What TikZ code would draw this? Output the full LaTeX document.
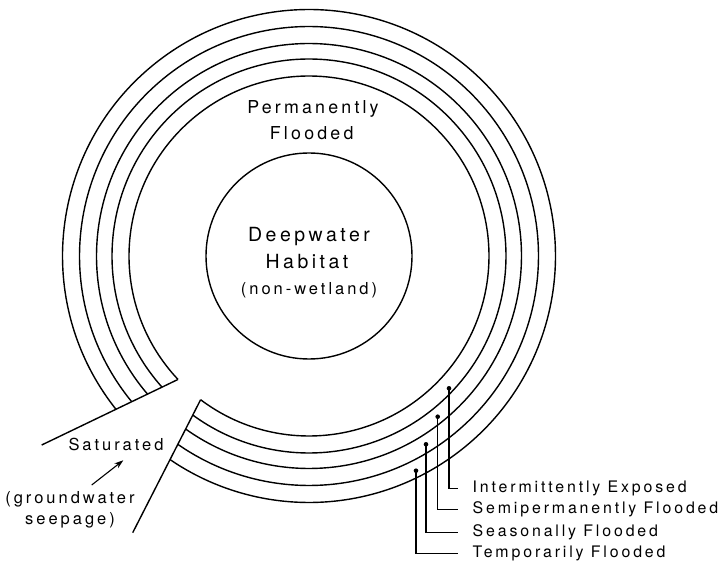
\documentclass[tikz,border=0pt]{standalone}
\usepackage{fontspec}
\setmainfont{TeX Gyre Heros}[LetterSpace=18]
\usetikzlibrary{arrows.meta}

\begin{document}
\begin{tikzpicture}[x=1pt, y=1pt, line width=1.4pt,
    every node/.style={inner sep=0pt, anchor=base},
    zone/.style={anchor=base west, font=\fontsize{15.9}{18}\selectfont},
    big/.style={font=\fontsize{19.5}{22}\selectfont},
    mid/.style={font=\fontsize{17.8}{21}\selectfont},
    small/.style={font=\fontsize{16.5}{21}\selectfont}]
\useasboundingbox (-309,-308) rectangle (413,256);
% deepwater core
\node[circle, draw, minimum size=206pt, anchor=center] (core) at (0,0) {};
\node[big] (deep) at (0,14) {Deepwater};
\node[big] (hab) at (-2,-12.7) {Habitat};
\node[small] (nonwet) at (0,-39) {(non-wetland)};
% wetland rings, cut open at the lower left
\foreach \r/\a/\b in {180/223.3/-127.02, 197/221.75/-126.14, 212.5/220.55/-125.47,
                      229.5/219.43/-124.85, 246.5/218.46/-124.30}
    \draw (\a:\r) arc[start angle=\a, end angle=\b, radius=\r];
\coordinate (up1) at (223.3:180);
\coordinate (up2) at (-267.3,-189);
\coordinate (lo1) at (232.98:180);
\coordinate (lo2) at (-176.3,-276.7);
\draw (up1) -- (up2);
\draw (lo1) -- (lo2);
\node[mid] (perm) at (4,142.5) {Permanently};
\node[mid] (flood) at (2.7,116.5) {Flooded};
% seepage entry
\node[small] (sat) at (-193,-194) {Saturated};
\node[small, align=center, anchor=north] (gw) at (-239,-234.7) {(groundwater\\seepage)};
\draw[-{Stealth[length=9pt, width=6pt]}, line width=1.1pt]
    ([shift={(21.7,5.7)}]gw.north) -- ([shift={(7.3,-9.3)}]sat.south);
% zone labels
\foreach \n/\xd/\yd/\y/\t in {ie/140/-132.3/-236.5/Intermittently Exposed,
                              sf/128.7/-160.7/-257.5/Semipermanently Flooded,
                              se/117/-188.3/-280.5/Seasonally Flooded,
                              tf/107/-214.7/-301.5/Temporarily Flooded} {
    \node[zone] (\n) at (163,\y) {\t};
    \fill (\xd,\yd) coordinate (\n dot) circle (2.3);
    \draw[line width=1.1pt] (\n dot) |- ([shift={(-14,4)}]\n.base west);
}
\end{tikzpicture}
\end{document}
